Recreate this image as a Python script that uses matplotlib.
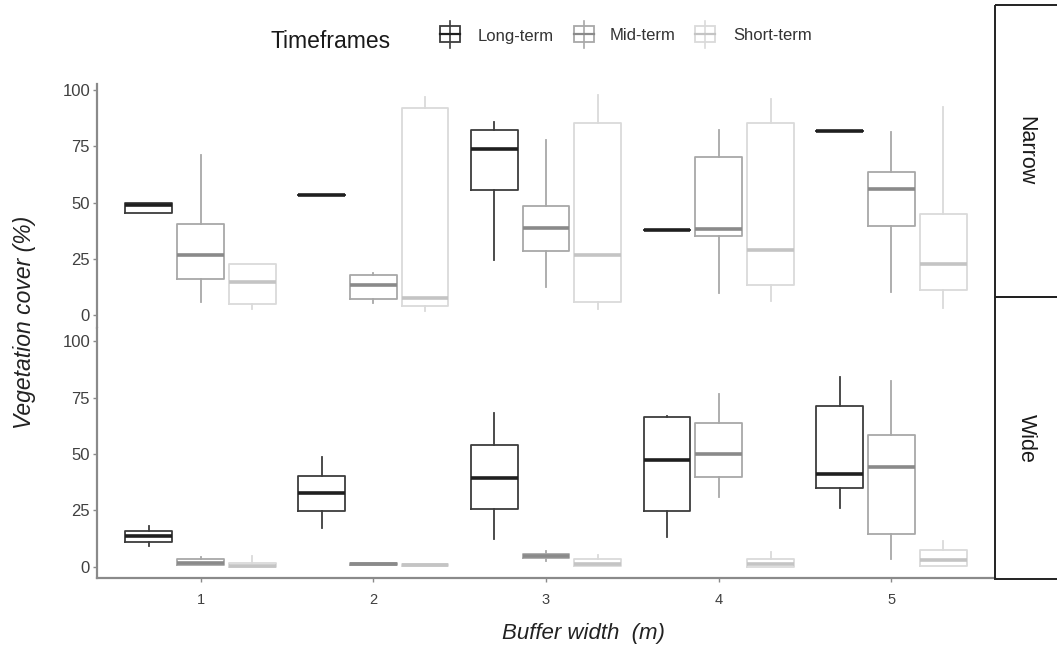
import matplotlib.pyplot as plt
from matplotlib.patches import Rectangle
from matplotlib.lines import Line2D

plt.rcParams['font.family'] = ['Liberation Sans', 'DejaVu Sans']

buffer_widths = [1, 2, 3, 4, 5]
timeframes = ["Long-term", "Mid-term", "Short-term"]
facets = ["Narrow", "Wide"]

# box stats per facet / timeframe: (whisker low, q1, median, q3, whisker high) for widths 1..5
narrow_long = [(45.5, 45.5, 48.9, 49.6, 49.6), (53.3, 53.3, 53.3, 53.3, 53.3),
               (24.4, 55.5, 73.6, 82.2, 85.6), (37.8, 37.8, 37.8, 37.8, 37.8),
               (81.8, 81.8, 81.8, 81.8, 81.8)]
narrow_mid = [(5.9, 16.0, 26.8, 40.4, 71.1), (5.5, 7.0, 13.3, 17.6, 18.5),
              (12.3, 28.3, 38.5, 48.6, 78.0), (9.6, 35.3, 38.2, 70.4, 82.2),
              (10.4, 39.7, 56.1, 63.7, 81.2)]
narrow_short = [(2.5, 4.7, 14.5, 22.7, 22.7), (1.9, 4.1, 7.4, 91.9, 96.7),
                (2.5, 5.9, 26.7, 85.5, 97.8), (6.2, 13.3, 28.7, 85.5, 96.0),
                (3.0, 11.1, 22.5, 44.7, 92.3)]
wide_long = [(9.2, 11.0, 13.7, 16.1, 18.2), (17.4, 24.9, 32.6, 40.3, 48.7),
             (12.2, 25.6, 39.5, 53.9, 68.0), (13.4, 24.9, 47.5, 66.2, 67.0),
             (25.9, 35.0, 41.1, 71.3, 84.1)]
wide_mid = [(0.8, 0.8, 1.8, 3.7, 4.3), (1.0, 1.0, 1.4, 1.8, 1.8),
            (2.5, 4.0, 4.8, 5.7, 7.0), (30.8, 39.7, 50.2, 63.6, 76.5),
            (3.7, 14.7, 44.2, 58.3, 82.5)]
wide_short = [(0.0, 0.0, 0.6, 1.8, 4.8), (0.2, 0.2, 0.8, 1.2, 1.2),
              (0.3, 0.3, 1.5, 3.3, 5.5), (0.0, 0.0, 1.1, 3.3, 6.7),
              (0.6, 0.6, 3.0, 7.3, 11.5)]

data = {
    "Narrow": [narrow_long, narrow_mid, narrow_short],
    "Wide": [wide_long, wide_mid, wide_short],
}

edge_cols = ["#3d3d3d", "#a8a8a8", "#dadada"]
median_cols = ["#1f1f1f", "#8a8a8a", "#c4c4c4"]
offsets = [-0.3, 0.0, 0.3]

W, H = 1057, 656
fig = plt.figure(figsize=(W / 100, H / 100), dpi=100)

def px_axes(x0, y0, x1, y1):
    return fig.add_axes([x0 / W, 1 - y1 / H, (x1 - x0) / W, (y1 - y0) / H])

ax_top = px_axes(97, 84, 995, 328)
ax_bot = px_axes(97, 328, 995, 578)
ax_top.set_ylim(-5.8, 102.7)
ax_bot.set_ylim(-4.9, 105.8)

for ax, facet in zip([ax_top, ax_bot], facets):
    for k, series in enumerate(data[facet]):
        stats = []
        pos = []
        for x, s in zip(buffer_widths, series):
            lo, q1, med, q3, hi = s
            stats.append(dict(whislo=lo, q1=q1, med=med, q3=q3, whishi=hi, fliers=[]))
            pos.append(x + offsets[k])
        ax.bxp(stats, positions=pos, widths=0.27, showcaps=False, showfliers=False,
               boxprops=dict(color=edge_cols[k], linewidth=1.3),
               whiskerprops=dict(color=edge_cols[k], linewidth=1.3),
               medianprops=dict(color=median_cols[k], linewidth=2.6, solid_capstyle='butt'),
               manage_ticks=False)
    ax.set_xlim(0.4, 5.6)
    ax.set_yticks([0, 25, 50, 75, 100])
    for sp in ["top", "right"]:
        ax.spines[sp].set_visible(False)
    ax.spines["left"].set_color("#8a8a8a")
    ax.spines["left"].set_linewidth(1.6)
    ax.tick_params(axis="y", length=3, width=1, color="#8a8a8a", labelsize=12,
                   labelcolor="#404040", pad=2)

ax_top.spines["bottom"].set_visible(False)
ax_top.set_xticks([])
ax_bot.spines["bottom"].set_color("#8a8a8a")
ax_bot.spines["bottom"].set_linewidth(1.6)
ax_bot.set_xticks(buffer_widths)
ax_bot.tick_params(axis="x", length=3, width=1, color="#8a8a8a", labelsize=10.5,
                   labelcolor="#404040", pad=8)

fig.text(25 / W, 1 - 322 / H, "Vegetation cover (%)", rotation=90, style="italic",
         fontsize=16.5, color="#222222", ha="center", va="center")
fig.text(583 / W, 1 - 634 / H, "Buffer width  (m)", style="italic",
         fontsize=16, color="#222222", ha="center", va="center")

# overlay in pixel coords for strips and legend
ov = fig.add_axes([0, 0, 1, 1], facecolor="none")
ov.set_xlim(0, W)
ov.set_ylim(H, 0)
ov.axis("off")

ov.add_patch(Rectangle((995, 5), 80, 292, fill=False, edgecolor="#222222", linewidth=1.4, clip_on=False))
ov.add_patch(Rectangle((995, 297), 80, 282, fill=False, edgecolor="#222222", linewidth=1.4, clip_on=False))
ov.text(1026, 151, facets[0], rotation=-90, ha="center", va="center", fontsize=15.5, color="#1a1a1a")
ov.text(1026, 438, facets[1], rotation=-90, ha="center", va="center", fontsize=15.5, color="#1a1a1a")

ov.text(331, 41, "Timeframes", ha="center", va="center", fontsize=16.5, color="#1a1a1a")
key_x = [450, 584, 705]
label_x = [478, 610, 733]
for kx, lx, lab, ec, mc in zip(key_x, label_x, timeframes, edge_cols, median_cols):
    ov.add_line(Line2D([kx, kx], [21, 48], color=ec, linewidth=1.2))
    ov.add_patch(Rectangle((kx - 10, 26), 20, 16, facecolor="white", edgecolor=ec, linewidth=1.3))
    ov.add_line(Line2D([kx - 10, kx + 10], [34, 34], color=mc, linewidth=1.6))
    ov.text(lx, 36, lab, ha="left", va="center", fontsize=12, color="#333333")

fig.savefig("out.png", dpi=100)
